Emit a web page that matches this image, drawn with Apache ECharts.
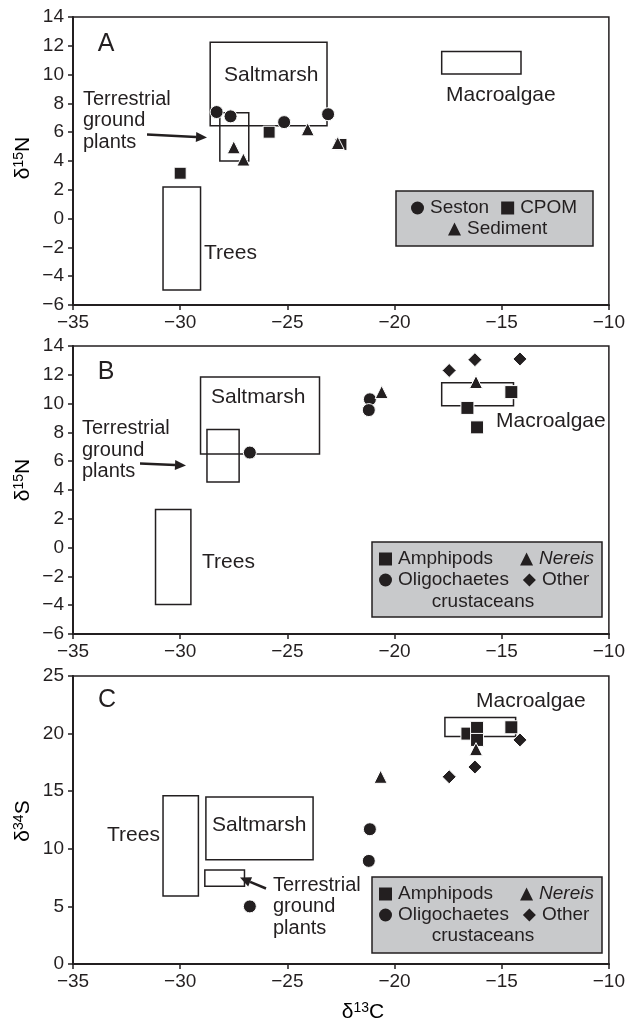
<!DOCTYPE html>
<html>
<head>
<meta charset="utf-8">
<script src="https://cdn.jsdelivr.net/npm/echarts@6/dist/echarts.min.js"></script>
<style>
html,body{margin:0;padding:0;background:#fff}
#main{width:628px;height:1025px}
</style>
</head>
<body>
<div id="main"></div>
<script>
// ---- panel A (d13C vs d15N): seston, CPOM, sediment
var sestonA   = [[-28.3, 7.4], [-27.65, 7.1], [-25.15, 6.7], [-23.1, 7.25]];
var cpomA     = [[-30.0, 3.15], [-25.85, 6.0], [-22.5, 5.15]];
var sedimentA = [[-27.5, 4.95], [-27.05, 4.1], [-24.05, 6.2], [-22.65, 5.25]];
// source ranges [xmin, xmax, ymin, ymax]: saltmarsh, terrestrial, trees, macroalgae
var boxesA = [[-28.6, -23.15, 6.45, 12.25], [-28.15, -26.8, 4.0, 7.35], [-30.8, -29.05, -4.95, 2.2], [-17.8, -14.1, 10.05, 11.6]];

// ---- panel B (d13C vs d15N): consumers
var amphipodsB    = [[-16.6, 9.7], [-16.15, 8.35], [-14.55, 10.8]];
var oligochaetesB = [[-26.75, 6.6], [-21.15, 10.3], [-21.2, 9.55]];
var nereisB       = [[-20.6, 10.8], [-16.2, 11.5]];
var otherB        = [[-17.45, 12.3], [-16.25, 13.05], [-14.15, 13.1]];
var boxesB = [[-29.05, -23.5, 6.5, 11.85], [-28.75, -27.25, 4.55, 8.2], [-31.15, -29.5, -3.95, 2.65], [-17.8, -14.45, 9.85, 11.45]];

// ---- panel C (d13C vs d34S): consumers
var amphipodsC    = [[-16.6, 20.0], [-16.15, 20.5], [-16.15, 19.45], [-14.55, 20.55]];
var oligochaetesC = [[-26.75, 5.0], [-21.15, 11.7], [-21.2, 8.95]];
var nereisC       = [[-20.65, 16.25], [-16.2, 18.65]];
var otherC        = [[-17.45, 16.25], [-16.25, 17.1], [-14.15, 19.45]];
var boxesC = [[-28.8, -23.8, 9.05, 14.5], [-28.85, -27.0, 6.75, 8.15], [-30.8, -29.15, 5.9, 14.6], [-17.65, -14.35, 19.75, 21.4]];

var ink = '#231f20';
var ff = 'Liberation Sans, Arial, Helvetica, sans-serif';

function minusFmt(v) { return v < 0 ? '\u2212' + Math.abs(v) : String(v); }

function xAx(i) {
  return {
    gridIndex: i, type: 'value', min: -35, max: -10, interval: 5,
    axisLine: {onZero: false, lineStyle: {color: ink, width: 2}},
    axisTick: {inside: false, length: 5, lineStyle: {color: ink, width: 1.5}},
    axisLabel: {color: ink, fontSize: 19, fontFamily: ff, margin: 8, formatter: minusFmt},
    splitLine: {show: false}
  };
}
function yAx(i, min, max, step) {
  return {
    gridIndex: i, type: 'value', min: min, max: max, interval: step,
    axisLine: {show: true, onZero: false, lineStyle: {color: ink, width: 2}},
    axisTick: {show: true, inside: false, length: 5, lineStyle: {color: ink, width: 1.5}},
    axisLabel: {color: ink, fontSize: 19, fontFamily: ff, margin: 9, formatter: minusFmt},
    splitLine: {show: false}
  };
}

function boxSeries(data, i) {
  return {
    type: 'custom', name: 'boxes' + i, xAxisIndex: i, yAxisIndex: i, z: 1,
    data: data, encode: {x: [0, 1], y: [2, 3]}, silent: true,
    renderItem: function (params, api) {
      var p1 = api.coord([api.value(0), api.value(3)]);
      var p2 = api.coord([api.value(1), api.value(2)]);
      return {type: 'rect', shape: {x: p1[0], y: p1[1], width: p2[0] - p1[0], height: p2[1] - p1[1]},
        style: {fill: 'none', stroke: ink, lineWidth: 1.5}};
    }
  };
}

function pts(name, data, i, symbol, size) {
  return {
    type: 'scatter', name: name, data: data, xAxisIndex: i, yAxisIndex: i, z: 3,
    symbol: symbol, symbolSize: size,
    itemStyle: {color: ink, borderColor: '#fff', borderWidth: 1, opacity: 1}
  };
}

function legendRow(left, top, names, gap) {
  return {
    left: left, top: top, data: names, orient: 'horizontal', padding: 0,
    itemGap: gap, itemWidth: 13, itemHeight: 13, selectedMode: false,
    itemStyle: {borderWidth: 0},
    textStyle: {color: ink, fontSize: 19, fontFamily: ff, lineHeight: 20, padding: [0, 0, 0, 1],
      rich: {i: {fontStyle: 'italic', fontSize: 19, fontFamily: ff, color: ink}}},
    formatter: function (n) {
      if (n === 'Nereis') return '{i|Nereis}';
      if (n === 'Other crustaceans') return 'Other';
      return n;
    }
  };
}

function txt(x, y, s, size, align, extra) {
  var o = {type: 'text', x: x, y: y, z: 10, silent: true,
    style: {text: s, fontSize: size, fontFamily: ff, fill: ink,
      textAlign: align || 'left', textVerticalAlign: 'middle', align: align || 'left', verticalAlign: 'middle'}};
  if (extra) for (var k in extra) o.style[k] = extra[k];
  return o;
}

function arrow(x1, y1, x2, y2) {
  var dx = x2 - x1, dy = y2 - y1, L = Math.sqrt(dx * dx + dy * dy);
  var ux = dx / L, uy = dy / L, hl = 11, hw = 5;
  var bx = x2 - ux * hl, by = y2 - uy * hl;
  return [
    {type: 'line', z: 10, silent: true, shape: {x1: x1, y1: y1, x2: bx, y2: by}, style: {stroke: ink, lineWidth: 2.5}},
    {type: 'polygon', z: 10, silent: true, shape: {points: [[x2, y2], [bx - uy * hw, by + ux * hw], [bx + uy * hw, by - ux * hw]]}, style: {fill: ink}}
  ];
}

var supRich = {
  b: {fontSize: 21, fontFamily: ff, color: ink},
  s: {fontSize: 14, fontFamily: ff, color: ink, verticalAlign: 'top'}
};
function yTitle(x, y, sup, letter) {
  return {type: 'text', x: x, y: y, rotation: Math.PI / 2, z: 10, silent: true,
    style: {text: '{b|\u03b4}{s|' + sup + '}{b|' + letter + '}', rich: supRich,
      textAlign: 'center', textVerticalAlign: 'middle', align: 'center', verticalAlign: 'middle'}};
}

var legendBox = function (x, y, w, h) {
  return {type: 'rect', z: 1, silent: true, shape: {x: x, y: y, width: w, height: h},
    style: {fill: '#c8c9cb', stroke: ink, lineWidth: 1.5}};
};

var terr = 'Terrestrial\nground\nplants';
var graphics = [
  legendBox(396, 191, 197, 55),
  legendBox(372, 542, 230, 75),
  legendBox(372, 877, 230, 76),
  // panel A
  txt(106, 44, 'A', 25, 'center'),
  txt(224, 75, 'Saltmarsh', 21),
  txt(83, 120.5, terr, 20, 'left', {lineHeight: 21.5}),
  txt(204, 253, 'Trees', 21),
  txt(446, 95, 'Macroalgae', 21),
  // panel B
  txt(106, 372, 'B', 25, 'center'),
  txt(211, 397, 'Saltmarsh', 21),
  txt(82, 450, terr, 20, 'left', {lineHeight: 21.5}),
  txt(202, 562, 'Trees', 21),
  txt(496, 421, 'Macroalgae', 21),
  txt(483, 602, 'crustaceans', 19, 'center'),
  // panel C
  txt(107, 700, 'C', 25, 'center'),
  txt(476, 701, 'Macroalgae', 21),
  txt(212, 825, 'Saltmarsh', 21),
  txt(107, 835, 'Trees', 21),
  txt(273, 906.5, terr, 20, 'left', {lineHeight: 21.5}),
  txt(483, 936, 'crustaceans', 19, 'center'),
  // axis titles
  yTitle(23, 158, '15', 'N'),
  yTitle(23, 480, '15', 'N'),
  yTitle(23, 821, '34', 'S'),
  {type: 'text', x: 363, y: 1012, z: 10, silent: true,
    style: {text: '{b|\u03b4}{s|13}{b|C}', rich: supRich, textAlign: 'center', textVerticalAlign: 'middle', align: 'center', verticalAlign: 'middle'}}
].concat(arrow(147, 134.5, 207, 137.5), arrow(140, 463.5, 186, 465.5), arrow(266, 888.5, 240, 877.5));

var option = {
  backgroundColor: '#fff',
  animation: false,
  grid: [
    {left: 73, top: 17, width: 539, height: 288, show: true, borderColor: ink, borderWidth: 1.5},
    {left: 73, top: 346, width: 539, height: 288, show: true, borderColor: ink, borderWidth: 1.5},
    {left: 73, top: 676, width: 539, height: 288, show: true, borderColor: ink, borderWidth: 1.5}
  ],
  xAxis: [xAx(0), xAx(1), xAx(2)],
  yAxis: [yAx(0, -6, 14, 2), yAx(1, -6, 14, 2), yAx(2, 0, 25, 5)],
  legend: [
    legendRow(411, 198, ['Seston', 'CPOM'], 12),
    legendRow(448, 219, ['Sediment'], 10),
    legendRow(379, 549, ['Amphipods', 'Nereis'], 27),
    legendRow(379, 570, ['Oligochaetes', 'Other crustaceans'], 14),
    legendRow(379, 884, ['Amphipods', 'Nereis'], 27),
    legendRow(379, 905, ['Oligochaetes', 'Other crustaceans'], 14)
  ],
  graphic: graphics,
  series: [
    boxSeries(boxesA, 0),
    pts('CPOM', cpomA, 0, 'rect', 12),
    pts('Seston', sestonA, 0, 'circle', 13),
    pts('Sediment', sedimentA, 0, 'triangle', 13),
    boxSeries(boxesB, 1),
    pts('Amphipods', amphipodsB, 1, 'rect', 13),
    pts('Oligochaetes', oligochaetesB, 1, 'circle', 13),
    pts('Nereis', nereisB, 1, 'triangle', 13),
    pts('Other crustaceans', otherB, 1, 'diamond', 14),
    boxSeries(boxesC, 2),
    pts('Amphipods', amphipodsC, 2, 'rect', 13),
    pts('Oligochaetes', oligochaetesC, 2, 'circle', 13),
    pts('Nereis', nereisC, 2, 'triangle', 13),
    pts('Other crustaceans', otherC, 2, 'diamond', 14)
  ]
};

var chart = echarts.init(document.getElementById('main'));
chart.setOption(option);
</script>
</body>
</html>
